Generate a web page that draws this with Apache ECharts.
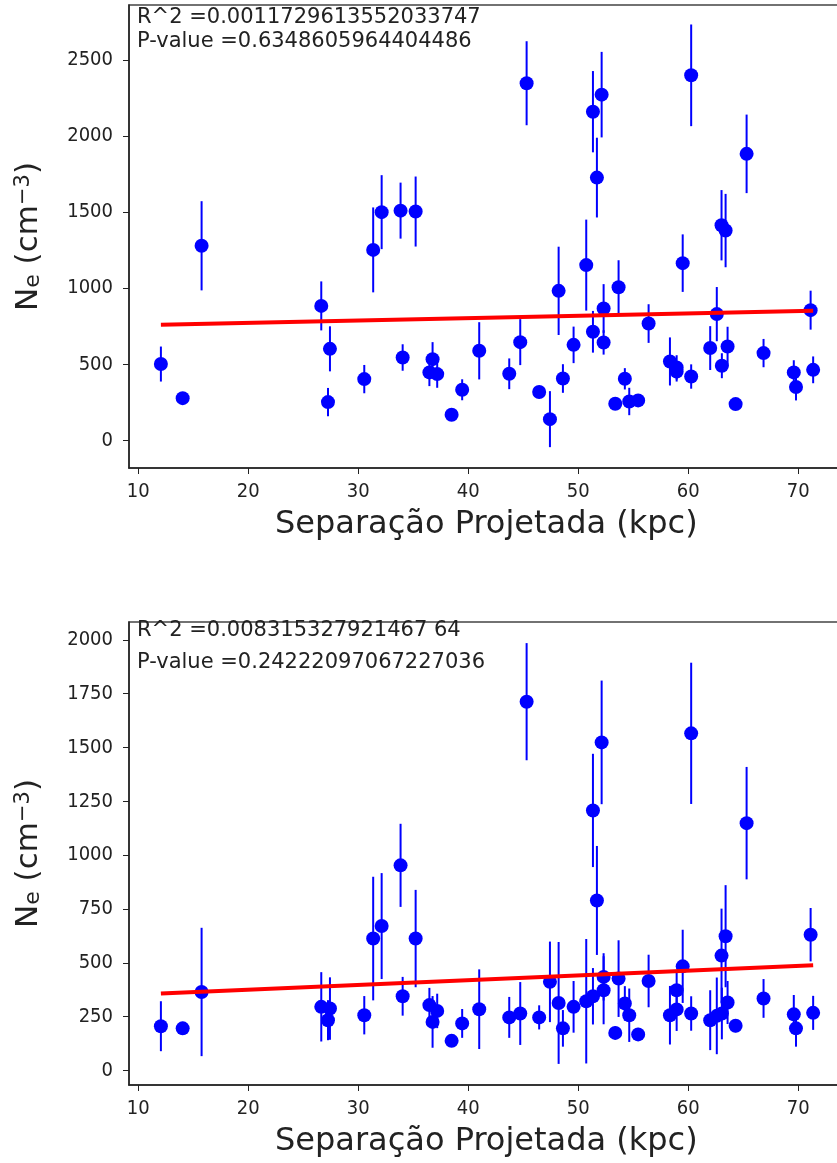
<!DOCTYPE html>
<html>
<head>
<meta charset="utf-8">
<script src="https://cdn.jsdelivr.net/npm/echarts@6/dist/echarts.min.js"></script>
<style>
  html, body { margin: 0; padding: 0; background: #fff; overflow: hidden; }
  #chart { width: 837px; height: 1163px; }
</style>
</head>
<body>
<div id="chart"></div>
<script>
// separacao projetada (kpc), igual nos dois graficos
var separacao = [12.06, 14.04, 15.76, 26.64, 27.25, 27.43, 30.55, 31.36, 32.13, 33.85,
  34.04, 35.22, 36.47, 36.76, 37.18, 38.49, 39.45, 41.0, 43.73, 44.73,
  45.31, 46.45, 47.43, 48.22, 48.61, 49.58, 50.73, 51.34, 51.34, 51.7,
  52.13, 52.31, 52.31, 53.37, 53.67, 54.24, 54.64, 55.45, 56.4, 58.34,
  58.95, 58.95, 59.5, 60.27, 60.27, 62.0, 62.6, 63.03, 63.06, 63.4,
  63.58, 64.31, 65.31, 66.85, 69.6, 69.8, 71.13, 71.36];

// grafico de cima
var neTop = [502, 278, 1279, 884, 252, 602, 403, 1252, 1500, 1510,
  545, 1504, 447, 534, 436, 169, 333, 589, 438, 646,
  2347, 318, 140, 983, 407, 628, 1152, 714, 2160, 1727,
  2272, 867, 644, 241, 1007, 405, 256, 263, 768, 519,
  453, 480, 1165, 420, 2399, 607, 830, 1414, 491, 1379,
  617, 239, 1883, 574, 447, 351, 856, 464];
var errTop = [115, 30, 293, 161, 93, 148, 93, 279, 243, 184,
  87, 230, 90, 112, 90, 25, 69, 188, 101, 151,
  276, 40, 184, 290, 94, 120, 299, 137, 267, 262,
  281, 160, 80, 30, 177, 70, 90, 30, 127, 158,
  66, 80, 189, 80, 334, 144, 178, 231, 82, 241,
  130, 30, 258, 93, 80, 88, 128, 88];
var fitTop = [[12.06, 760], [71.36, 852]];

// grafico de baixo
var neBot = [206, 196, 365, 296, 234, 288, 257, 613, 671, 953,
  345, 613, 304, 226, 277, 138, 219, 285, 247, 265,
  1713, 247, 412, 314, 196, 296, 322, 345, 1208, 790,
  1524, 435, 373, 175, 427, 312, 257, 168, 416, 257,
  373, 284, 484, 265, 1566, 234, 254, 534, 265, 624,
  316, 208, 1149, 335, 261, 196, 631, 268];
var errBot = [116, 30, 298, 161, 93, 145, 89, 287, 246, 193,
  90, 226, 80, 120, 80, 25, 67, 185, 95, 146,
  272, 56, 187, 283, 85, 120, 289, 131, 263, 253,
  287, 110, 158, 30, 178, 80, 124, 30, 122, 136,
  90, 100, 170, 80, 328, 139, 178, 218, 120, 237,
  100, 30, 261, 90, 90, 85, 124, 79];
var fitBot = [[12.06, 358], [71.36, 489]];

var xTicks = [10, 20, 30, 40, 50, 60, 70];
var yTicksTop = [0, 500, 1000, 1500, 2000, 2500];
var yTicksBot = [0, 250, 500, 750, 1000, 1250, 1500, 1750, 2000];

var textoTop = ['R^2 =0.0011729613552033747', 'P-value =0.6348605964404486'];
var textoBot = ['R^2 =0.008315327921467 64', 'P-value =0.24222097067227036'];
var tituloEixoX = 'Separação Projetada (kpc)';

var chart = echarts.init(document.getElementById('chart'));

function pontos(ne, err) {
  var d = [];
  for (var i = 0; i < separacao.length; i++) {
    d.push([separacao[i], ne[i], err[i]]);
  }
  return d;
}

// barra de erro vertical
function barras(params, api) {
  var x = api.value(0), y = api.value(1), e = api.value(2);
  var p1 = api.coord([x, y - e]);
  var p2 = api.coord([x, y + e]);
  return {
    type: 'line',
    shape: { x1: p1[0], y1: p1[1], x2: p2[0], y2: p2[1] },
    style: { stroke: '#0000ff', lineWidth: 2 }
  };
}

var tickFont = { fontFamily: '"DejaVu Sans Condensed", "DejaVu Sans"', fontSize: 20, color: '#222' };
var nomeY = '{n|N}{s|e}{n| (cm}{p|−3}{n|)}';
var richY = {
  n: { fontFamily: 'DejaVu Sans', fontSize: 31, color: '#222' },
  s: { fontFamily: 'DejaVu Sans', fontSize: 22, color: '#222', verticalAlign: 'bottom' },
  p: { fontFamily: 'DejaVu Sans', fontSize: 21, color: '#222', verticalAlign: 'top' }
};

// largura 732 px: a borda direita fica fora da imagem, como no original
function eixoX(idx) {
  return {
    type: 'value', gridIndex: idx, min: 9.16, max: 75.71,
    axisLine: { show: true, onZero: false, lineStyle: { color: '#222', width: 1.5 } },
    axisTick: { show: true, length: 6, customValues: xTicks, lineStyle: { color: '#222' } },
    axisLabel: Object.assign({ margin: 14, customValues: xTicks, formatter: function (v) { return String(v); } }, tickFont),
    splitLine: { show: false }
  };
}

function eixoY(idx, mn, mx, ticks) {
  return {
    type: 'value', gridIndex: idx, min: mn, max: mx,
    name: nomeY, nameLocation: 'middle', nameGap: 85, nameRotate: 90,
    nameTextStyle: { rich: richY },
    axisLine: { show: true, onZero: false, lineStyle: { color: '#222', width: 1.5 } },
    axisTick: { show: true, length: 6, customValues: ticks, lineStyle: { color: '#222' } },
    axisLabel: Object.assign({ margin: 16, customValues: ticks, formatter: function (v) { return String(v); } }, tickFont),
    splitLine: { show: false }
  };
}

function textos(linhas, y1, y2) {
  return [
    { type: 'text', left: 137, top: y1, style: { text: linhas[0], fontFamily: 'DejaVu Sans', fontSize: 21, fill: '#222' }, z: 100 },
    { type: 'text', left: 137, top: y2, style: { text: linhas[1], fontFamily: 'DejaVu Sans', fontSize: 21, fill: '#222' }, z: 100 }
  ];
}

// titulo do eixo x como texto, centrado na parte visivel do grafico
function tituloX(y) {
  return { type: 'text', left: 275, top: y, style: { text: tituloEixoX, fontFamily: 'DejaVu Sans', fontSize: 32, fill: '#222' } };
}

var option = {
  backgroundColor: '#fff',
  animation: false,
  grid: [
    { left: 129, top: 5, width: 732, height: 463, show: true, borderColor: '#444', borderWidth: 1.5, outerBoundsMode: 'none', containLabel: false },
    { left: 129, top: 622, width: 732, height: 463, show: true, borderColor: '#444', borderWidth: 1.5, outerBoundsMode: 'none', containLabel: false }
  ],
  xAxis: [eixoX(0), eixoX(1)],
  yAxis: [eixoY(0, -181, 2861, yTicksTop), eixoY(1, -67, 2083, yTicksBot)],
  graphic: textos(textoTop, 7, 31).concat(textos(textoBot, 620, 652)).concat([tituloX(509), tituloX(1126)]),
  series: [
    { type: 'line', xAxisIndex: 0, yAxisIndex: 0, data: fitTop, symbol: 'none',
      lineStyle: { color: '#ff0000', width: 4 } },
    { type: 'custom', xAxisIndex: 0, yAxisIndex: 0, data: pontos(neTop, errTop),
      renderItem: barras, encode: { x: 0, y: 1 } },
    { type: 'scatter', xAxisIndex: 0, yAxisIndex: 0, data: pontos(neTop, errTop),
      symbolSize: 14, itemStyle: { color: '#0000ff', opacity: 1 } },
    { type: 'line', xAxisIndex: 1, yAxisIndex: 1, data: fitBot, symbol: 'none',
      lineStyle: { color: '#ff0000', width: 4 } },
    { type: 'custom', xAxisIndex: 1, yAxisIndex: 1, data: pontos(neBot, errBot),
      renderItem: barras, encode: { x: 0, y: 1 } },
    { type: 'scatter', xAxisIndex: 1, yAxisIndex: 1, data: pontos(neBot, errBot),
      symbolSize: 14, itemStyle: { color: '#0000ff', opacity: 1 } }
  ]
};

chart.setOption(option);
</script>
</body>
</html>
